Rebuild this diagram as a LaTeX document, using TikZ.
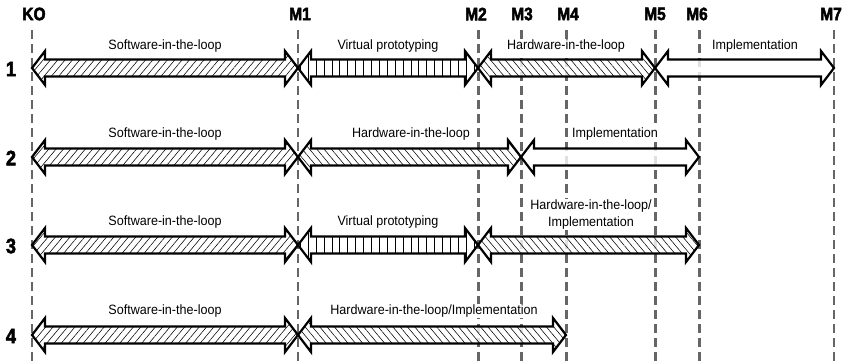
\documentclass[tikz,border=0pt]{standalone}
\usepackage{fontspec}
\setmainfont{Liberation Sans}
\newfontfamily\lblfont[FakeStretch=0.93]{Liberation Sans}
\newfontfamily\msfont[FakeStretch=0.86,FakeBold=2.5]{Liberation Sans Bold}
\usetikzlibrary{patterns.meta}
\tikzset{
  msline/.style={draw=black!60,line width=2pt,dash pattern=on 9pt off 5pt},
  mslinethick/.style={msline,line width=3pt},
  mslabel/.style={font=\msfont\fontsize{18}{18}\selectfont,inner sep=0pt},
  rowlabel/.style={font=\msfont\fontsize{21}{21}\selectfont,inner sep=0pt},
  phase/.style={font=\lblfont\fontsize{13.5}{16.5}\selectfont,inner sep=1pt,align=center,fill=white},
  arrowbox/.style={draw=black,line width=2.2pt,preaction={fill=white,fill opacity=0.8}},
  sil/.style={pattern={Lines[angle=50,distance=5.6pt,line width=0.55pt]}},
  vp/.style={pattern={Lines[angle=90,distance=7.9pt,line width=0.55pt]}},
  hil/.style={pattern={Lines[angle=-50,distance=5.6pt,line width=0.55pt]}},
  impl/.style={}
}
\newcommand\darrow[4]{%
  \draw[arrowbox,#4] (#1,#3) -- (#1+13,#3-17) -- (#1+13,#3-8.5) -- (#2-13,#3-8.5)
    -- (#2-13,#3-17) -- (#2,#3) -- (#2-13,#3+17) -- (#2-13,#3+8.5)
    -- (#1+13,#3+8.5) -- (#1+13,#3+17) -- cycle;}
\begin{document}
\begin{tikzpicture}[x=1pt,y=-1pt]
\useasboundingbox (0,0) rectangle (844,364);
% milestones
\coordinate (KO) at (32,30);
\coordinate (M1) at (298,30);
\coordinate (M2) at (478,30);
\coordinate (M3) at (521,30);
\coordinate (M4) at (566,30);
\coordinate (M5) at (655,30);
\coordinate (M6) at (699,30);
\coordinate (M7) at (834,30);
\foreach \m in {KO,M1,M7} \draw[msline] (\m) -- (\m |- 0,366);
\foreach \m in {M2,M3,M4,M5,M6} \draw[mslinethick] (\m) -- (\m |- 0,366);
\node[mslabel] (tKO) at (34,14) {KO};
\node[mslabel] (tM1) at (300,14) {M1};
\node[mslabel] (tM2) at (476,14) {M2};
\node[mslabel] (tM3) at (522,14) {M3};
\node[mslabel] (tM4) at (568,14) {M4};
\node[mslabel] (tM5) at (655,14) {M5};
\node[mslabel] (tM6) at (697,14) {M6};
\node[mslabel] (tM7) at (831,14) {M7};
% row numbers
\node[rowlabel] (r1) at (11,69) {1};
\node[rowlabel] (r2) at (11,158) {2};
\node[rowlabel] (r3) at (11,246) {3};
\node[rowlabel] (r4) at (11,336) {4};
% row 1
\darrow{32}{298}{68}{sil}
\darrow{298}{478}{68}{vp}
\darrow{478}{655}{68}{hil}
\darrow{655}{834}{68}{impl}
\node[phase] (a1) at (165,46) {Software-in-the-loop};
\node[phase] (b1) at (388,46) {Virtual prototyping};
\node[phase] (c1) at (566,46) {Hardware-in-the-loop};
\node[phase] (d1) at (755,46) {Implementation};
% row 2
\darrow{32}{298}{157}{sil}
\darrow{298}{521}{157}{hil}
\darrow{521}{699}{157}{impl}
\node[phase] (a2) at (165,134) {Software-in-the-loop};
\node[phase] (b2) at (411,134) {Hardware-in-the-loop};
\node[phase] (c2) at (615,134) {Implementation};
% row 3
\darrow{32}{298}{245}{sil}
\darrow{298}{478}{245}{vp}
\darrow{478}{699}{245}{hil}
\node[phase] (a3) at (165,222) {Software-in-the-loop};
\node[phase] (b3) at (388,222) {Virtual prototyping};
\node[phase,anchor=south] (c3) at (591,230) {Hardware-in-the-loop/\\Implementation};
% row 4
\darrow{32}{298}{335}{sil}
\darrow{298}{566}{335}{hil}
\node[phase] (a4) at (165,311) {Software-in-the-loop};
\node[phase] (b4) at (434,311) {Hardware-in-the-loop/Implementation};
\end{tikzpicture}
\end{document}
